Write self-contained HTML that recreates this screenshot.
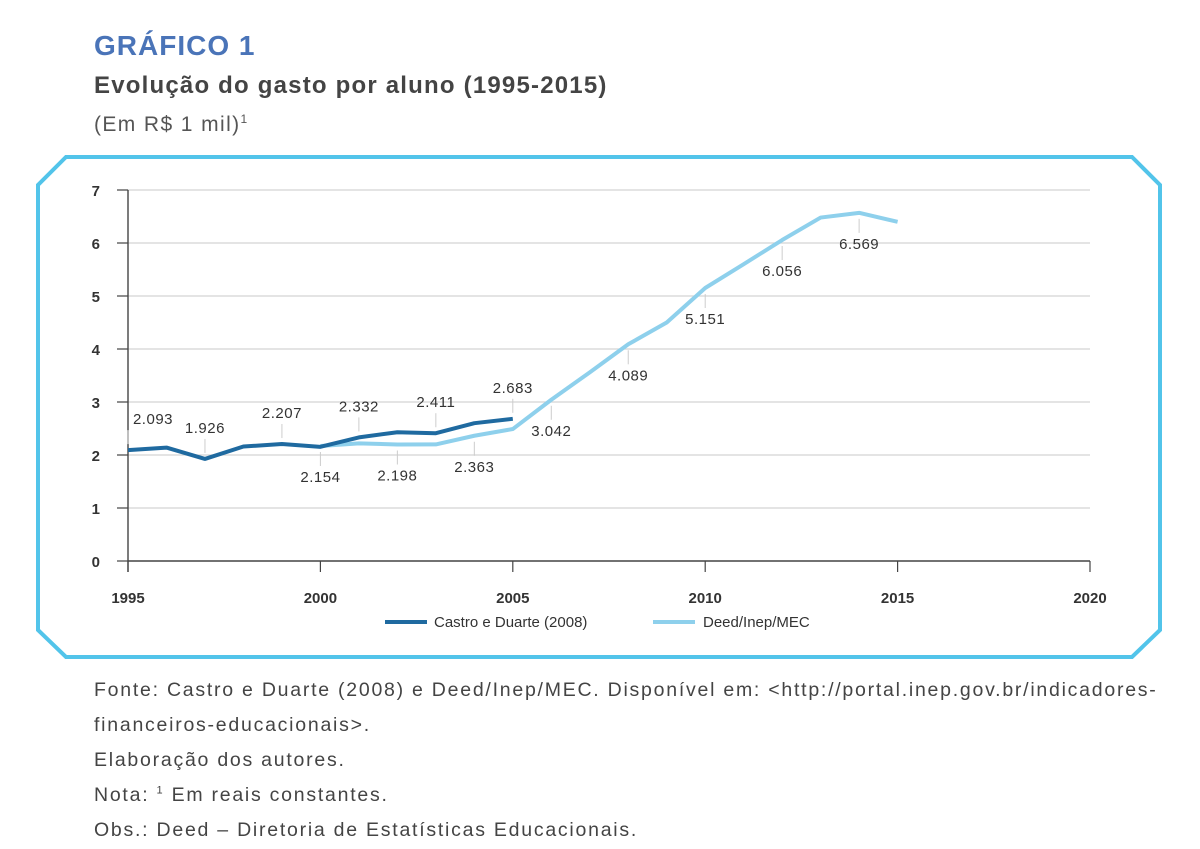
<!DOCTYPE html>
<html><head><meta charset="utf-8"><style>
body{margin:0;background:#fff;width:1200px;height:849px;overflow:hidden;font-family:"Liberation Sans",sans-serif}
.t{position:absolute;left:94px;color:#333;white-space:nowrap}
sup{line-height:0}
</style></head><body>
<div class="t" style="top:30px;font-size:28px;font-weight:bold;color:#4a74b8;letter-spacing:1px">GRÁFICO 1</div>
<div class="t" style="top:72px;font-size:24px;font-weight:bold;color:#444;letter-spacing:1.2px">Evolução do gasto por aluno (1995-2015)</div>
<div class="t" style="top:113px;font-size:21px;color:#555;letter-spacing:1.4px">(Em R$ 1 mil)<sup style="font-size:12px">1</sup></div>
<svg width="1200" height="849" style="position:absolute;left:0;top:0" id="svg">
<polygon points="66,157 1132,157 1160,185 1160,630 1132,657 66,657 38,630 38,185" fill="none" stroke="#52c4ea" stroke-width="4"/>
<g id="g"></g>
</svg>
<div style="position:absolute;left:94px;top:673px;font-size:19.5px;line-height:35px;color:#444;width:1090px;letter-spacing:1.75px;white-space:nowrap">
Fonte: Castro e Duarte (2008) e Deed/Inep/MEC. Disponível em: &lt;http://portal.inep.gov.br/indicadores-<br>financeiros-educacionais&gt;.<br>Elaboração dos autores.<br>Nota: <sup style="font-size:11px">1</sup> Em reais constantes.<br>Obs.: Deed – Diretoria de Estatísticas Educacionais.</div>
<script>
const xTicks=[1995,2000,2005,2010,2015,2020];
const yTicks=[0,1,2,3,4,5,6,7];
const castroYears=[1995,1996,1997,1998,1999,2000,2001,2002,2003,2004,2005];
const castroValues=[2.093,2.14,1.926,2.16,2.207,2.154,2.332,2.43,2.411,2.6,2.683];
const deedYears=[2000,2001,2002,2003,2004,2005,2006,2007,2008,2009,2010,2011,2012,2013,2014,2015];
const deedValues=[2.17,2.22,2.198,2.2,2.363,2.49,3.042,3.56,4.089,4.5,5.151,5.6,6.056,6.48,6.569,6.4];
const castroLabelYears=[1995,1997,1999,2001,2003,2005];
const castroLabels=["2.093","1.926","2.207","2.332","2.411","2.683"];
const deedLabelYears=[2000,2002,2004,2006,2008,2010,2012,2014];
const deedLabels=["2.154","2.198","2.363","3.042","4.089","5.151","6.056","6.569"];
const X=y=>128+(y-1995)*(1090-128)/25;
const Y=v=>561-v*(561-190)/7;
const g=document.getElementById('g');const NS='http://www.w3.org/2000/svg';
function mk(t,a,txt){const e=document.createElementNS(NS,t);for(const k in a)e.setAttribute(k,a[k]);if(txt!=null)e.textContent=txt;g.appendChild(e);return e;}
yTicks.forEach(v=>{
 if(v>0){const l=mk('line',{x1:128,x2:1090,y1:Y(v),y2:Y(v),stroke:'#d4d4d4','stroke-width':1.2});
 
 }
 const tk=mk('line',{x1:117,x2:128,y1:Y(v),y2:Y(v),stroke:'#444','stroke-width':1.2});
 
 
 const t=mk('text',{x:100,y:Y(v)+6,'text-anchor':'end','font-size':15,'font-weight':'bold',fill:'#333'},v);
 
 
});
const ya=mk('line',{x1:128,x2:128,y1:190,y2:572,stroke:'#444','stroke-width':1.4});


const xa=mk('line',{x1:128,x2:1090,y1:561,y2:561,stroke:'#444','stroke-width':1.4});


xTicks.forEach(y=>{
 const tk=mk('line',{x1:X(y),x2:X(y),y1:561,y2:572,stroke:'#444','stroke-width':1.2});
 
 
 const t=mk('text',{x:X(y),y:603,'text-anchor':'middle','font-size':15,'font-weight':'bold',fill:'#333'},y);
 
 
});
function series(ys,vs,c,name){const p=mk('polyline',{points:ys.map((y,i)=>X(y)+','+Y(vs[i])).join(' '),fill:'none',stroke:c,'stroke-width':4,'stroke-linejoin':'round'});
 
 }
series(deedYears,deedValues,'#8ed0ec','series-deed-inep-mec');
series(castroYears,castroValues,'#1f6aa0','series-castro-duarte');
castroLabelYears.forEach((y,i)=>{const v=castroValues[castroYears.indexOf(y)];const x=X(y);const yy=Y(v);
 const l=mk('line',{x1:x,x2:x,y1:yy-6,y2:yy-20,stroke:'#ccc','stroke-width':1});
 
 
 const t=mk('text',{x:y===1995?x+25:x,y:yy-26,'text-anchor':'middle','font-size':15,fill:'#333','letter-spacing':0.5},castroLabels[i]);
 
 });
deedLabelYears.forEach((y,i)=>{const v=deedValues[deedYears.indexOf(y)];const x=X(y);const yy=Y(v);
 const l=mk('line',{x1:x,x2:x,y1:yy+6,y2:yy+20,stroke:'#ccc','stroke-width':1});
 
 
 const t=mk('text',{x:x,y:yy+36,'text-anchor':'middle','font-size':15,fill:'#333','letter-spacing':0.5},deedLabels[i]);
 
 });
const l1=mk('line',{x1:385,x2:427,y1:622,y2:622,stroke:'#1f6aa0','stroke-width':4});


const t1=mk('text',{x:434,y:627,'font-size':15,fill:'#333'},'Castro e Duarte (2008)');


const l2=mk('line',{x1:653,x2:695,y1:622,y2:622,stroke:'#8ed0ec','stroke-width':4});


const t2=mk('text',{x:703,y:627,'font-size':15,fill:'#333'},'Deed/Inep/MEC');


</script>
</body></html>
